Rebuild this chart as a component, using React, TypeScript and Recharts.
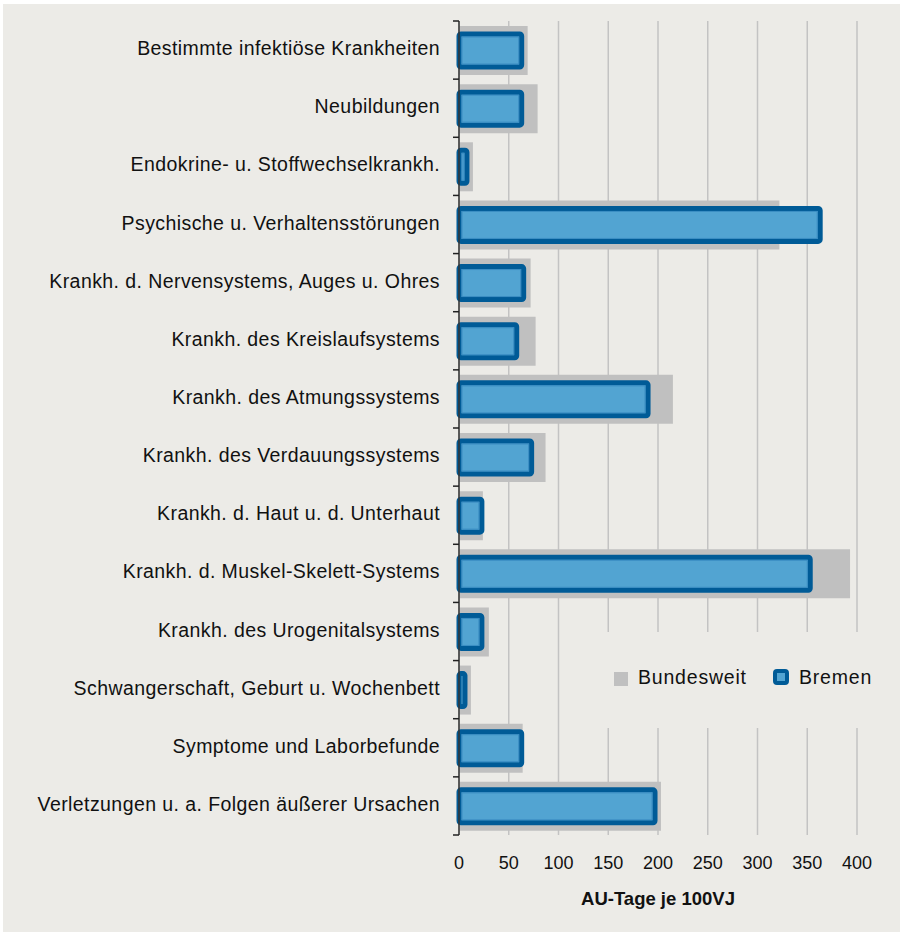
import { BarChart, Bar, XAxis, YAxis, CartesianGrid, Legend, Label } from "recharts";

const CATEGORIES = [
  "Bestimmte infektiöse Krankheiten",
  "Neubildungen",
  "Endokrine- u. Stoffwechselkrankh.",
  "Psychische u. Verhaltensstörungen",
  "Krankh. d. Nervensystems, Auges u. Ohres",
  "Krankh. des Kreislaufsystems",
  "Krankh. des Atmungssystems",
  "Krankh. des Verdauungssystems",
  "Krankh. d. Haut u. d. Unterhaut",
  "Krankh. d. Muskel-Skelett-Systems",
  "Krankh. des Urogenitalsystems",
  "Schwangerschaft, Geburt u. Wochenbett",
  "Symptome und Laborbefunde",
  "Verletzungen u. a. Folgen äußerer Ursachen",
];
const BUNDESWEIT = [69, 79, 14, 322, 72, 77, 215, 87, 24, 393, 30, 12, 64, 203];
const BREMEN = [63, 63, 8, 363, 65, 58, 190, 73, 23, 353, 23, 6, 63, 197];
const X_TICKS = [0, 50, 100, 150, 200, 250, 300, 350, 400];

const BG = "#ecebe7";
const GRAY = "#c0c0c0";
const BLUE = "#52a4d2";
const BLUE_DARK = "#005b97";
const FONT = "'Liberation Sans', Arial, sans-serif";

const data = CATEGORIES.map((name, i) => ({
  name,
  bundesweit: BUNDESWEIT[i],
  bremen: BREMEN[i],
}));

// label plus tick marks on the band boundaries
function CategoryTick(props: any) {
  const { x, y, payload, index } = props;
  const half = payload && payload.offset ? payload.offset : 814 / 14 / 2;
  const axisX = x + 19;
  return (
    <g>
      <text x={x} y={y} dy={5} textAnchor="end" fontSize={19.5} letterSpacing={0.42} fill="#111" fontFamily={FONT}>
        {payload.value}
      </text>
      <line x1={axisX - 6} x2={axisX} y1={y - half} y2={y - half} stroke="#222" strokeWidth={1.5} />
      {index === CATEGORIES.length - 1 && (
        <line x1={axisX - 6} x2={axisX} y1={y + half} y2={y + half} stroke="#222" strokeWidth={1.5} />
      )}
    </g>
  );
}

function BremenBar(props: any) {
  const { x, y, width, height } = props;
  if (!width || width <= 0) return null;
  return (
    <g>
      <rect x={x} y={y} width={width} height={height} rx={2} fill={BLUE} stroke={BLUE_DARK} strokeWidth={5} />
      <rect x={x + 3} y={y + 3} width={Math.max(width - 6, 0)} height={height - 6} fill="none" stroke="#3a8cc2" strokeWidth={1} />
    </g>
  );
}

function LegendBox() {
  return (
    <svg width={310} height={96} style={{ display: "block" }}>
      <rect x={36} y={40} width={14} height={14} fill={GRAY} />
      <text x={60} y={52.3} fontSize={19.5} letterSpacing={0.8} fill="#111" fontFamily={FONT}>
        Bundesweit
      </text>
      <rect x={197} y={39} width={12} height={12} rx={2} fill={BLUE} stroke={BLUE_DARK} strokeWidth={4} />
      <text x={221} y={52.3} fontSize={19.5} letterSpacing={0.8} fill="#111" fontFamily={FONT}>
        Bremen
      </text>
    </svg>
  );
}

export default function App() {
  return (
    <div style={{ position: "absolute", left: 0, top: 0, width: 902, height: 936, background: "#fff" }}>
      <div style={{ position: "absolute", left: 3, top: 4, width: 897, height: 928, background: BG }}>
        <BarChart
          width={896}
          height={928}
          data={data}
          layout="vertical"
          margin={{ top: 17, right: 42, bottom: 22, left: 0 }}
          style={{ fontFamily: FONT }}
        >
          <CartesianGrid horizontal={false} stroke="#c3c3c3" strokeWidth={1.5} />
          <XAxis
            type="number"
            domain={[0, 400]}
            ticks={X_TICKS}
            axisLine={false}
            tickLine={false}
            tickSize={0}
            tickMargin={21}
            height={75}
            tick={{ fontSize: 18, fill: "#111", fontFamily: FONT }}
            interval={0}
          >
            <Label
              value="AU-Tage je 100VJ"
              position="insideBottom"
              offset={5}
              style={{ fontWeight: "bold", fontSize: 18.5, fill: "#111", fontFamily: FONT }}
            />
          </XAxis>
          <YAxis
            yAxisId="main"
            type="category"
            dataKey="name"
            width={456}
            axisLine={{ stroke: "#333", strokeWidth: 1.5 }}
            tickLine={false}
            tickSize={0}
            tickMargin={19}
            interval={0}
            tick={<CategoryTick />}
          />
          <YAxis yAxisId="over" type="category" dataKey="name" hide />
          <Bar yAxisId="main" dataKey="bundesweit" name="Bundesweit" fill={GRAY} barSize={49} isAnimationActive={false} />
          <Bar
            yAxisId="over"
            dataKey="bremen"
            name="Bremen"
            fill={BLUE}
            barSize={33}
            shape={<BremenBar />}
            isAnimationActive={false}
          />
          <Legend
            layout="vertical"
            align="center"
            verticalAlign="middle"
            wrapperStyle={{ left: 575, top: 628, width: 310, height: 96, background: BG }}
            content={() => <LegendBox />}
          />
        </BarChart>
      </div>
    </div>
  );
}
